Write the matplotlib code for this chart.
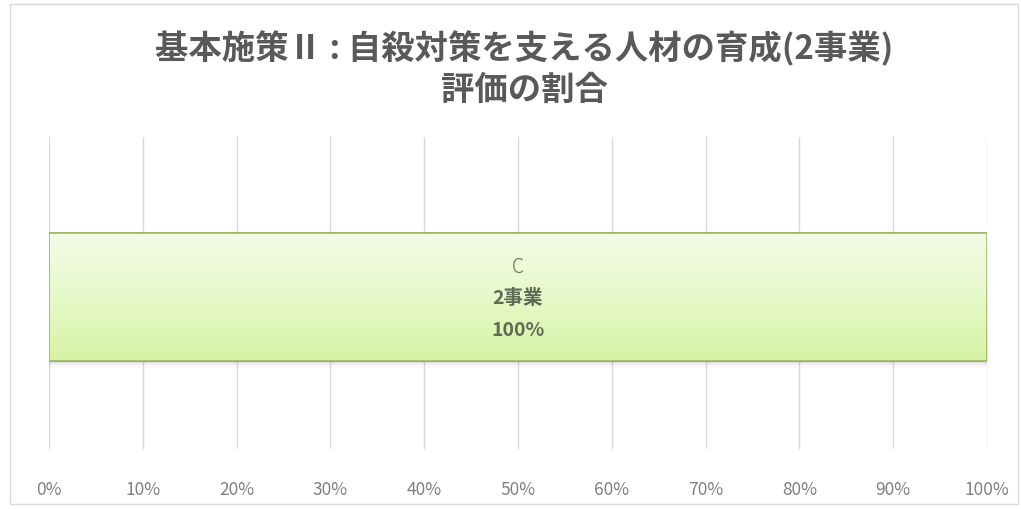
import matplotlib
matplotlib.use("Agg")
import matplotlib.pyplot as plt
import numpy as np
from matplotlib.patches import Rectangle
from matplotlib.ticker import FuncFormatter
from matplotlib.colors import LinearSegmentedColormap

plt.rcParams['font.family'] = ['Noto Sans CJK JP', 'DejaVu Sans']

categories = ["基本施策Ⅱ"]
series_name = "C"
counts = [2]
shares = [100]
xticks = [0, 10, 20, 30, 40, 50, 60, 70, 80, 90, 100]
title = "基本施策Ⅱ : 自殺対策を支える人材の育成(2事業)\n評価の割合"

fig = plt.figure(figsize=(10.21, 5.10), dpi=100)
fig.patches.append(Rectangle((10/1021, 5/510), 1008/1021, 500/510, transform=fig.transFigure,
                             fill=False, edgecolor='#d9d9d9', linewidth=1.0))
ax = fig.add_axes([49/1021, 60/510, 938/1021, 312/510])
ax.set_xlim(0, 100)
ax.set_ylim(-0.487, 0.513)

h = 0.41
y = [0]
# soft shadow under the bar
for i, a in enumerate([0.12, 0.08, 0.04]):
    sb = ax.barh(y, shares, height=h, left=0, color='#707070', alpha=a, zorder=2, linewidth=0)
    sb[0].set_y(-h/2 - 0.007*(i+1))
bars = ax.barh(y, shares, height=h, color='#e4f8c4', edgecolor='#9cb764', linewidth=1.2, zorder=3)
bar = bars[0]
grad = np.linspace(0, 1, 256).reshape(-1, 1)
cmap = LinearSegmentedColormap.from_list('g', ['#f4fce8', '#e6f9c9', '#d6f3a4'])
im = ax.imshow(grad, cmap=cmap, aspect='auto', extent=[0, shares[0], -h/2, h/2],
               zorder=3.5, origin='upper')
im.set_clip_path(bar)
ax.barh(y, shares, height=h, fill=False, edgecolor='#9cb764', linewidth=1.2, zorder=4)

cx = shares[0] / 2
lab_color = '#5f6b55'
ax.text(cx, 0.098, series_name, ha='center', va='center', fontsize=14, color=lab_color,
        fontweight='light', zorder=5)
ax.text(cx, 0.0, f"{counts[0]}事業", ha='center', va='center', fontsize=14, color=lab_color,
        fontweight='bold', zorder=5)
ax.text(cx, -0.104, f"{shares[0]}%", ha='center', va='center', fontsize=14, color=lab_color,
        fontweight='bold', zorder=5)

ax.set_xticks(xticks)
ax.xaxis.set_major_formatter(FuncFormatter(lambda v, p: f"{int(v)}%"))
ax.set_yticks([])
ax.grid(axis='x', color='#d9d9d9', linewidth=1.0, zorder=0)
ax.set_axisbelow(True)
for s in ax.spines.values():
    s.set_visible(False)
ax.tick_params(axis='x', length=0, pad=22, labelsize=12.5, labelcolor='#808080')

fig.text(524/1021, 1 - 69/510, title, ha='center', va='center', fontsize=24, color='#595959',
         fontweight='bold', linespacing=1.3)

fig.savefig('out.png', dpi=100)
